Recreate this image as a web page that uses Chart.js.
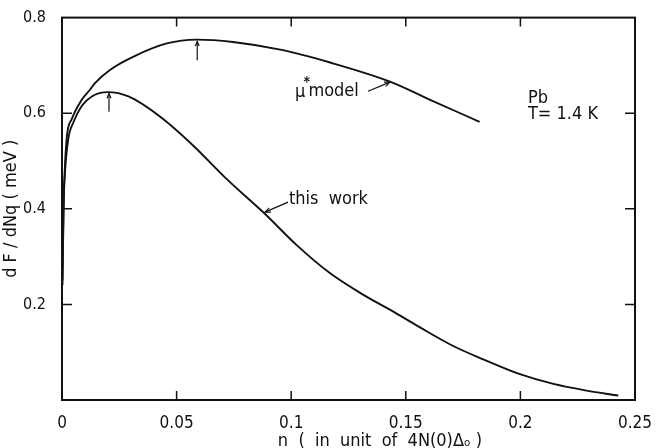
<!DOCTYPE html>
<html><head><meta charset="utf-8">
<script src="https://cdn.jsdelivr.net/npm/chart.js@4"></script>
<style>html,body{margin:0;background:#fff}#wrap{width:658px;height:448px}</style>
</head><body><div id="wrap"><canvas id="c"></canvas></div>
<script>
// n (in unit of 4N(0)Δo) and dF/dNq (meV)
const thisWorkN=[0.0002,0.0006,0.0013,0.0027,0.0049,0.0086,0.013,0.020,0.029,0.043,0.0573,0.0719,0.0886,0.1024,0.117,0.1315,0.1438,0.156,0.1707,0.1853,0.1998,0.2144,0.2289,0.2427];
const thisWorkF=[0.24,0.40,0.476,0.545,0.58,0.615,0.635,0.644,0.635,0.592,0.532,0.462,0.389,0.324,0.265,0.220,0.187,0.1525,0.113,0.082,0.054,0.0336,0.0197,0.0093];
const muStarN=[0.0002,0.0008,0.002,0.0042,0.0086,0.0122,0.0144,0.0209,0.031,0.0457,0.0588,0.0746,0.0964,0.117,0.1431,0.1606,0.1822];
const muStarF=[0.25,0.42,0.545,0.587,0.628,0.649,0.663,0.6905,0.718,0.746,0.754,0.749,0.732,0.706,0.666,0.628,0.582];
const xTicks=[0,0.05,0.1,0.15,0.2,0.25];
const yTicks=[0,0.2,0.4,0.6,0.8];
const FONT='"Liberation Sans Narrow","DejaVu Sans Condensed","Liberation Sans",sans-serif';
const INK='#111';

const pts=(xs,ys)=>xs.map((x,i)=>({x,y:ys[i]}));
const fmt=v=>String(parseFloat(v.toFixed(2)));

function arrow(ctx,x1,y1,x2,y2,h){
  ctx.beginPath();ctx.moveTo(x1,y1);ctx.lineTo(x2,y2);ctx.stroke();
  const a=Math.atan2(y2-y1,x2-x1);
  ctx.beginPath();
  ctx.moveTo(x2-h*Math.cos(a-0.4),y2-h*Math.sin(a-0.4));
  ctx.lineTo(x2,y2);
  ctx.lineTo(x2-h*Math.cos(a+0.4),y2-h*Math.sin(a+0.4));
  ctx.stroke();
}

const frame={id:'frame',afterDraw(chart){
  const ctx=chart.ctx,a=chart.chartArea,xs=chart.scales.x,ys=chart.scales.y;
  const X=v=>xs.getPixelForValue(v),Y=v=>ys.getPixelForValue(v);
  ctx.save();
  ctx.strokeStyle=INK;ctx.fillStyle=INK;ctx.lineWidth=2;
  ctx.strokeRect(a.left,a.top,a.right-a.left,a.bottom-a.top);
  ctx.lineWidth=1.5;
  xTicks.slice(1,-1).forEach(v=>{
    ctx.beginPath();ctx.moveTo(X(v),a.bottom);ctx.lineTo(X(v),a.bottom-9);
    ctx.moveTo(X(v),a.top);ctx.lineTo(X(v),a.top+9);ctx.stroke();
  });
  yTicks.slice(1,-1).forEach(v=>{
    ctx.beginPath();ctx.moveTo(a.left,Y(v));ctx.lineTo(a.left+10,Y(v));
    ctx.moveTo(a.right,Y(v));ctx.lineTo(a.right-10,Y(v));ctx.stroke();
  });
  // peak markers
  ctx.lineWidth=1.2;
  arrow(ctx,X(0.0205),Y(0.603),X(0.0205),Y(0.641),5);
  arrow(ctx,X(0.059),Y(0.711),X(0.059),Y(0.750),5);
  // label pointers
  arrow(ctx,X(0.1335),Y(0.646),X(0.1431),Y(0.665),6);
  arrow(ctx,X(0.0986),Y(0.414),X(0.0886),Y(0.393),6);
  // labels
  ctx.textBaseline='middle';ctx.textAlign='left';
  ctx.font='18px '+FONT;
  ctx.fillText('μ',X(0.1017),Y(0.643));
  const mw=ctx.measureText('μ').width;
  ctx.font='bold 14px '+FONT;
  ctx.fillText('*',X(0.1017)+mw-2,Y(0.664));
  ctx.font='18px '+FONT;
  ctx.fillText('model',X(0.1017)+mw+3,Y(0.646));
  ctx.fillText('this  work',X(0.099),Y(0.42));
  ctx.fillText('Pb',X(0.2033),Y(0.632));
  ctx.fillText('T= 1.4 K',X(0.2033),Y(0.597));
  ctx.textAlign='center';
  ctx.fillText('n  (  in  unit  of  4N(0)Δₒ )',380,441);
  ctx.restore();
}};

new Chart(document.getElementById('c'),{
  type:'line',
  data:{datasets:[
    {label:'this work',data:pts(thisWorkN,thisWorkF)},
    {label:'μ* model',data:pts(muStarN,muStarF)}
  ]},
  options:{
    responsive:true,maintainAspectRatio:false,animation:false,
    layout:{padding:{top:14,right:23,left:0,bottom:0}},
    elements:{point:{radius:0},line:{borderColor:INK,borderWidth:1.9,cubicInterpolationMode:'monotone'}},
    plugins:{legend:{display:false},tooltip:{enabled:false}},
    scales:{
      x:{type:'linear',min:0,max:0.25,afterFit:s=>{s.height=48;},
        afterBuildTicks:s=>{s.ticks=xTicks.map(v=>({value:v}));},
        grid:{display:false},border:{display:false},
        ticks:{color:INK,padding:5,font:{family:FONT,size:17},maxRotation:0,callback:fmt}},
      y:{min:0,max:0.8,afterFit:s=>{s.width=62;},
        afterBuildTicks:s=>{s.ticks=yTicks.map(v=>({value:v}));},
        grid:{display:false},border:{display:false},
        ticks:{color:INK,padding:8,font:{family:FONT,size:16},callback:v=>v===0?'':fmt(v)},
        title:{display:true,text:'d F / dNq ( meV )',color:INK,font:{family:FONT,size:18},padding:{top:1,bottom:2}}}
    }
  },
  plugins:[frame]
});
</script></body></html>
